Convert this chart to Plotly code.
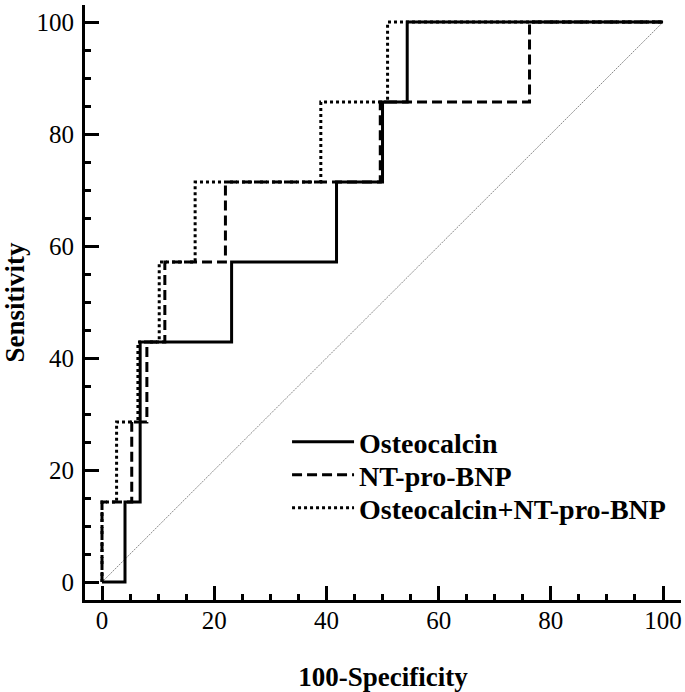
import plotly.graph_objects as go

# ROC operating points (100-Specificity, Sensitivity)
osteo_fpr = [0, 4.1, 6.8, 23.1, 41.8, 50.0, 54.4, 100]
osteo_tpr = [0, 14.29, 42.86, 57.14, 71.43, 85.71, 100, 100]

bnp_fpr = [0, 0, 5.3, 8.0, 11.2, 22.0, 49.6, 76.2, 100]
bnp_tpr = [0, 14.29, 28.57, 42.86, 57.14, 71.43, 85.71, 100, 100]

comb_fpr = [0, 0, 2.6, 6.4, 10.2, 16.6, 39.0, 50.9, 100]
comb_tpr = [0, 14.29, 28.57, 42.86, 57.14, 71.43, 85.71, 100, 100]

ref_line = [0, 100]

names = ["Osteocalcin", "NT-pro-BNP", "Osteocalcin+NT-pro-BNP"]

FONT = "Liberation Serif"

fig = go.Figure()
fig.add_trace(go.Scatter(x=ref_line, y=ref_line, mode="lines",
                         line=dict(color="#8a8a8a", width=1, dash="2px,1px"),
                         showlegend=False, hoverinfo="skip"))
fig.add_trace(go.Scatter(x=osteo_fpr, y=osteo_tpr, mode="lines", name=names[0],
                         legend="legend",
                         line=dict(color="black", width=3, shape="hv")))
fig.add_trace(go.Scatter(x=bnp_fpr, y=bnp_tpr, mode="lines", name=names[1],
                         legend="legend2",
                         line=dict(color="black", width=3, shape="hv", dash="10px,5px")))
fig.add_trace(go.Scatter(x=comb_fpr, y=comb_tpr, mode="lines", name=names[2],
                         legend="legend3",
                         line=dict(color="black", width=3, shape="hv", dash="3px,3px")))

axis_common = dict(
    showgrid=False, zeroline=False, showline=True, linecolor="black", linewidth=3,
    ticks="inside", ticklen=14, tickwidth=3, tickcolor="black",
    dtick=20, tick0=0,
    minor=dict(ticks="inside", ticklen=6, tickwidth=3, tickcolor="black", dtick=5, showgrid=False),
    tickfont=dict(family=FONT, size=25, color="black"),
)

fig.update_xaxes(range=[-3.03, 103.2], ticklabelstandoff=-4,
                 title=dict(text="<b>100-Specificity</b>",
                            font=dict(family=FONT, size=27, color="black"), standoff=36),
                 **axis_common)
fig.update_yaxes(range=[-3.2, 103.05], ticklabelstandoff=3,
                 title=dict(text="<b>Sensitivity</b>",
                            font=dict(family=FONT, size=27, color="black"), standoff=13),
                 **axis_common)

leg_common = dict(x=0.339, xanchor="left", yanchor="middle",
                  bgcolor="rgba(0,0,0,0)", itemwidth=62,
                  font=dict(family=FONT, size=28, color="black", weight="bold"))

fig.update_layout(
    width=685, height=692,
    margin=dict(l=85, r=4, t=5, b=92),
    plot_bgcolor="white", paper_bgcolor="white",
    showlegend=True,
    legend=dict(y=0.2655, **leg_common),
    legend2=dict(y=0.2101, **leg_common),
    legend3=dict(y=0.1546, **leg_common),
)

fig.write_html("out.html", config={"displayModeBar": False},
               post_script="document.body.style.margin='0';")
